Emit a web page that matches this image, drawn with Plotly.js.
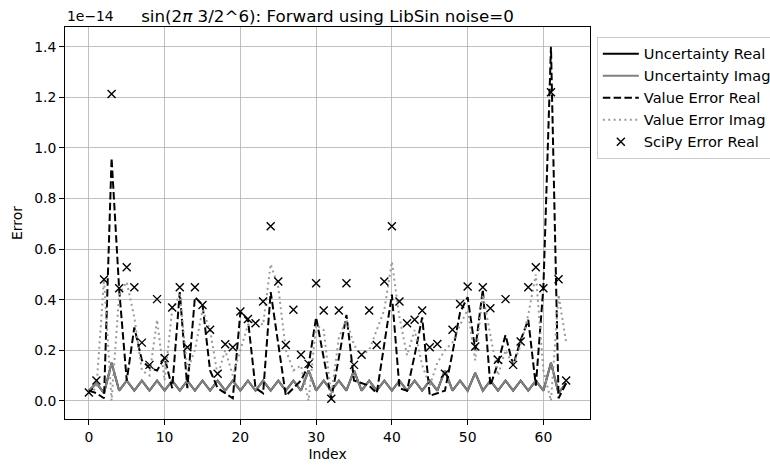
<!DOCTYPE html>
<html>
<head>
<meta charset="utf-8">
<script src="https://cdn.plot.ly/plotly-3.0.1.min.js"></script>
<style>
  html, body { margin: 0; padding: 0; background: #fff; }
  #chart { width: 770px; height: 467px; }
</style>
</head>
<body>
<div id="chart"></div>
<script>
// Index (x values)
const index = [0,1,2,3,4,5,6,7,8,9,10,11,12,13,14,15,16,17,18,19,20,21,22,23,24,25,26,27,28,29,30,31,
               32,33,34,35,36,37,38,39,40,41,42,43,44,45,46,47,48,49,50,51,52,53,54,55,56,57,58,59,60,61,62,63];

// All values in units of 1e-14
const uncertaintyReal = [0.04,0.07,0.03,0.15,0.04,0.08,0.04,0.08,0.04,0.08,
  0.04,0.08,0.04,0.08,0.04,0.08,0.04,0.08,0.04,0.08,
  0.04,0.08,0.04,0.08,0.04,0.08,0.04,0.08,0.04,0.12,
  0.04,0.08,0.04,0.08,0.04,0.12,0.04,0.08,0.04,0.08,
  0.04,0.08,0.04,0.08,0.04,0.08,0.04,0.12,0.04,0.08,
  0.04,0.11,0.04,0.08,0.04,0.08,0.04,0.08,0.04,0.08,
  0.04,0.15,0.03,0.07];

const uncertaintyImag = [0.04,0.07,0.03,0.15,0.04,0.08,0.04,0.08,0.04,0.08,
  0.04,0.08,0.04,0.08,0.04,0.08,0.04,0.08,0.04,0.08,
  0.04,0.08,0.04,0.08,0.04,0.08,0.04,0.08,0.04,0.12,
  0.04,0.08,0.04,0.08,0.04,0.12,0.04,0.08,0.04,0.08,
  0.04,0.08,0.04,0.08,0.04,0.08,0.04,0.12,0.04,0.08,
  0.04,0.11,0.04,0.08,0.04,0.08,0.04,0.08,0.04,0.08,
  0.04,0.15,0.03,0.07];

const valueErrorReal = [0.04,0.03,0.01,0.96,0.44,0.08,0.29,0.16,0.13,0.12,
  0.17,0.05,0.43,0.05,0.41,0.38,0.12,0.05,0.03,0.01,
  0.35,0.32,0.05,0.03,0.43,0.22,0.02,0.05,0.08,0.14,
  0.33,0.17,0.01,0.17,0.34,0.08,0.07,0.06,0.03,0.22,
  0.42,0.05,0.04,0.18,0.33,0.02,0.03,0.04,0.19,0.35,
  0.41,0.20,0.44,0.06,0.15,0.26,0.14,0.24,0.32,0.06,
  0.45,1.40,0.01,0.07];

const valueErrorImag = [0.03,0.05,0.48,0.00,0.42,0.47,0.33,0.12,0.10,0.32,
  0.08,0.36,0.42,0.12,0.20,0.36,0.28,0.10,0.20,0.10,
  0.20,0.30,0.32,0.30,0.54,0.45,0.20,0.12,0.14,0.00,
  0.30,0.28,0.02,0.25,0.32,0.22,0.18,0.20,0.28,0.36,
  0.55,0.33,0.18,0.28,0.14,0.06,0.15,0.20,0.23,0.30,
  0.36,0.16,0.42,0.26,0.10,0.20,0.14,0.22,0.34,0.50,
  0.12,0.00,0.42,0.23];

const scipyErrorReal = [0.033,0.08,0.48,1.213,0.445,0.528,0.449,0.23,0.142,0.402,
  0.169,0.369,0.449,0.212,0.449,0.379,0.281,0.107,0.224,0.212,
  0.353,0.323,0.307,0.393,0.69,0.472,0.221,0.36,0.182,0.146,
  0.465,0.357,0.008,0.357,0.465,0.142,0.182,0.357,0.221,0.472,
  0.69,0.393,0.307,0.32,0.357,0.212,0.225,0.107,0.281,0.383,
  0.452,0.215,0.449,0.366,0.162,0.402,0.142,0.234,0.449,0.528,
  0.445,1.22,0.481,0.08];

const xTicks = [0,10,20,30,40,50,60];
const yTicks = [0.0,0.2,0.4,0.6,0.8,1.0,1.2,1.4];

const FONT = 'DejaVu Sans, sans-serif';

const traces = [
  {x: index, y: uncertaintyReal, name: 'Uncertainty Real', mode: 'lines',
   line: {color: '#000000', width: 2}},
  {x: index, y: uncertaintyImag, name: 'Uncertainty Imag', mode: 'lines',
   line: {color: '#808080', width: 2}},
  {x: index, y: valueErrorReal, name: 'Value Error Real', mode: 'lines',
   line: {color: '#000000', width: 2, dash: '7.5px,3.3px'}},
  {x: index, y: valueErrorImag, name: 'Value Error Imag', mode: 'lines',
   line: {color: '#9a9a9a', width: 2, dash: '2px,3.4px'}},
  {x: index, y: scipyErrorReal, name: 'SciPy Error Real', mode: 'markers',
   marker: {symbol: 'x-thin-open', size: 8, color: '#000000', line: {color: '#000000', width: 1.4}}}
];

const layout = {
  width: 770, height: 467,
  margin: {l: 65, r: 180, t: 27, b: 48, autoexpand: false},
  paper_bgcolor: '#ffffff', plot_bgcolor: '#ffffff',
  font: {family: FONT, size: 13.9, color: '#000000'},
  title: {text: 'sin(2<i>π</i> 3/2^6): Forward using LibSin noise=0',
          font: {family: FONT, size: 16.7, color: '#000000'},
          x: 0.5, xref: 'paper', xanchor: 'center',
          y: 1, yref: 'paper', yanchor: 'bottom', pad: {b: 5}},
  xaxis: {range: [-3.15, 66.15], tickvals: xTicks, ticktext: xTicks.map(String),
          showgrid: true, gridcolor: '#b0b0b0', gridwidth: 0.8, zeroline: false,
          showline: true, linecolor: '#000000', linewidth: 1, mirror: true,
          ticks: 'outside', ticklen: 5, tickcolor: '#000000', tickwidth: 1,
          tickfont: {family: FONT, size: 13.9, color: '#000000'},
          title: {text: 'Index', font: {family: FONT, size: 13.9, color: '#000000'}, standoff: 5}},
  yaxis: {range: [-0.072, 1.478], tickvals: yTicks, ticktext: yTicks.map(v => v.toFixed(1)),
          showgrid: true, gridcolor: '#b0b0b0', gridwidth: 0.8, zeroline: false,
          showline: true, linecolor: '#000000', linewidth: 1, mirror: true,
          ticks: 'outside', ticklen: 5, tickcolor: '#000000', tickwidth: 1,
          tickfont: {family: FONT, size: 13.9, color: '#000000'},
          title: {text: 'Error', font: {family: FONT, size: 13.9, color: '#000000'}, standoff: 8}},
  legend: {x: 1.013, xanchor: 'left', y: 0.975, yanchor: 'top', itemwidth: 36,
           bgcolor: 'rgba(255,255,255,0.8)', bordercolor: '#cccccc', borderwidth: 1,
           font: {family: FONT, size: 14.6, color: '#000000'}, tracegroupgap: 0},
  annotations: [{text: '1e\u221214', xref: 'paper', yref: 'paper', x: 0, y: 1,
                 xanchor: 'left', yanchor: 'bottom', showarrow: false, yshift: 1,
                 font: {family: FONT, size: 13.9, color: '#000000'}}],
  showlegend: true
};

Plotly.newPlot('chart', traces, layout, {displayModeBar: false, staticPlot: true});
</script>
</body>
</html>
